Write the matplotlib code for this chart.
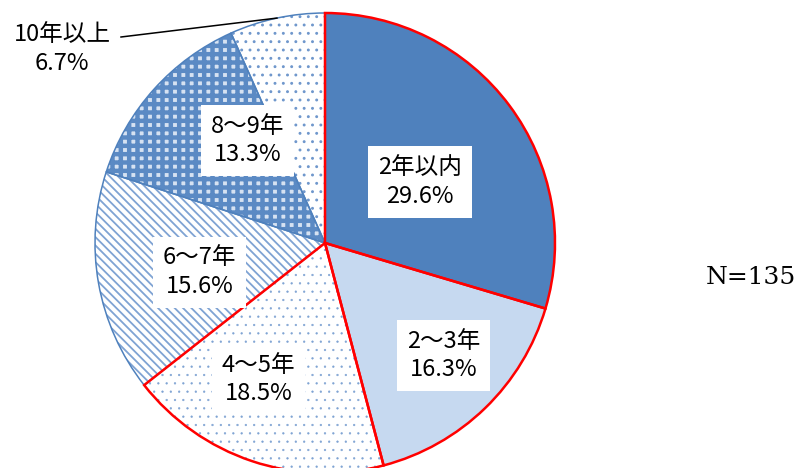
import numpy as np
import matplotlib
matplotlib.use("Agg")
import matplotlib.pyplot as plt

plt.rcParams['font.family'] = ['Noto Sans CJK JP', 'DejaVu Sans']

# ---- data ----
categories = ["2年以内", "2～3年", "4～5年", "6～7年", "8～9年", "10年以上"]
percents = [29.6, 16.3, 18.5, 15.6, 13.3, 6.7]
n_label = "N=135"

# ---- style ----
BLUE = "#4F81BD"
face_colors = [BLUE, "#C6D9F0", "white", "white", "#D6E2F2", "white"]
hatches = [None, None, "..", "\\\\\\\\", "++", ".."]
hatch_colors = [BLUE, BLUE, "#7FA3D3", "#7FA3D3", "#5B8AC4", "#6F97CC"]
hatch_lw = [1.0, 1.0, 0.4, 1.3, 3.2, 0.9]
edge_colors = ["#FF0000", "#FF0000", "#FF0000", BLUE, BLUE, BLUE]
edge_lw = [1.8, 1.8, 1.8, 1.1, 1.1, 1.1]
label_dist = [0.49, 0.71, 0.66, 0.56, 0.56, None]
label_angle_off = [-4, 2.4, -7.5, 3, -11, 0]

W, H = 800, 468
fig = plt.figure(figsize=(W / 100, H / 100), dpi=100)
ax = fig.add_axes([0, 0, 1, 1])
cx, cy, R = 325, H - 243, 230

# hatched fills
wedges, _ = ax.pie(percents, startangle=90, counterclock=False,
                   center=(cx, cy), radius=R, colors=face_colors,
                   wedgeprops=dict(linewidth=0))
for w, h, hc, hl in zip(wedges, hatches, hatch_colors, hatch_lw):
    w.set_edgecolor(hc)
    w.set_linewidth(0)
    if h:
        w.set_hatch(h)
        if hasattr(w, "set_hatch_linewidth"):
            w.set_hatch_linewidth(hl)

# outlines: blue ones first, red on top
outl, _ = ax.pie(percents, startangle=90, counterclock=False,
                 center=(cx, cy), radius=R,
                 wedgeprops=dict(fill=False))
order = [3, 4, 5, 0, 1, 2]
for k, i in enumerate(order):
    o = outl[i]
    o.set_edgecolor(edge_colors[i])
    o.set_linewidth(edge_lw[i])
    o.set_zorder(3 + k * 0.01)

# labels
for i, w in enumerate(wedges):
    mid = 0.5 * (w.theta1 + w.theta2)
    txt = f"{categories[i]}\n{percents[i]:.1f}%"
    if label_dist[i] is not None:
        a = np.deg2rad(mid + label_angle_off[i])
        x = cx + label_dist[i] * R * np.cos(a)
        y = cy + label_dist[i] * R * np.sin(a)
        ax.text(x, y, txt, ha="center", va="center", fontsize=17,
                linespacing=1.3, zorder=5,
                bbox=dict(boxstyle="square,pad=0.42", fc="white", ec="none"))
    else:
        a = np.deg2rad(mid)
        ex = cx + R * np.cos(a)
        ey = cy + R * np.sin(a)
        tx, ty = 62, H - 49
        ax.text(tx, ty, txt, ha="center", va="center", fontsize=17,
                linespacing=1.3, zorder=5)
        ax.plot([121, ex], [H - 37, ey], color="black", lw=1.1, zorder=5)

ax.text(751, H - 278, n_label, ha="center", va="center", fontsize=18,
        family="DejaVu Serif")

ax.set_xlim(0, W)
ax.set_ylim(0, H)
ax.set_aspect("auto")
ax.axis("off")
fig.savefig("out.png", dpi=100)
